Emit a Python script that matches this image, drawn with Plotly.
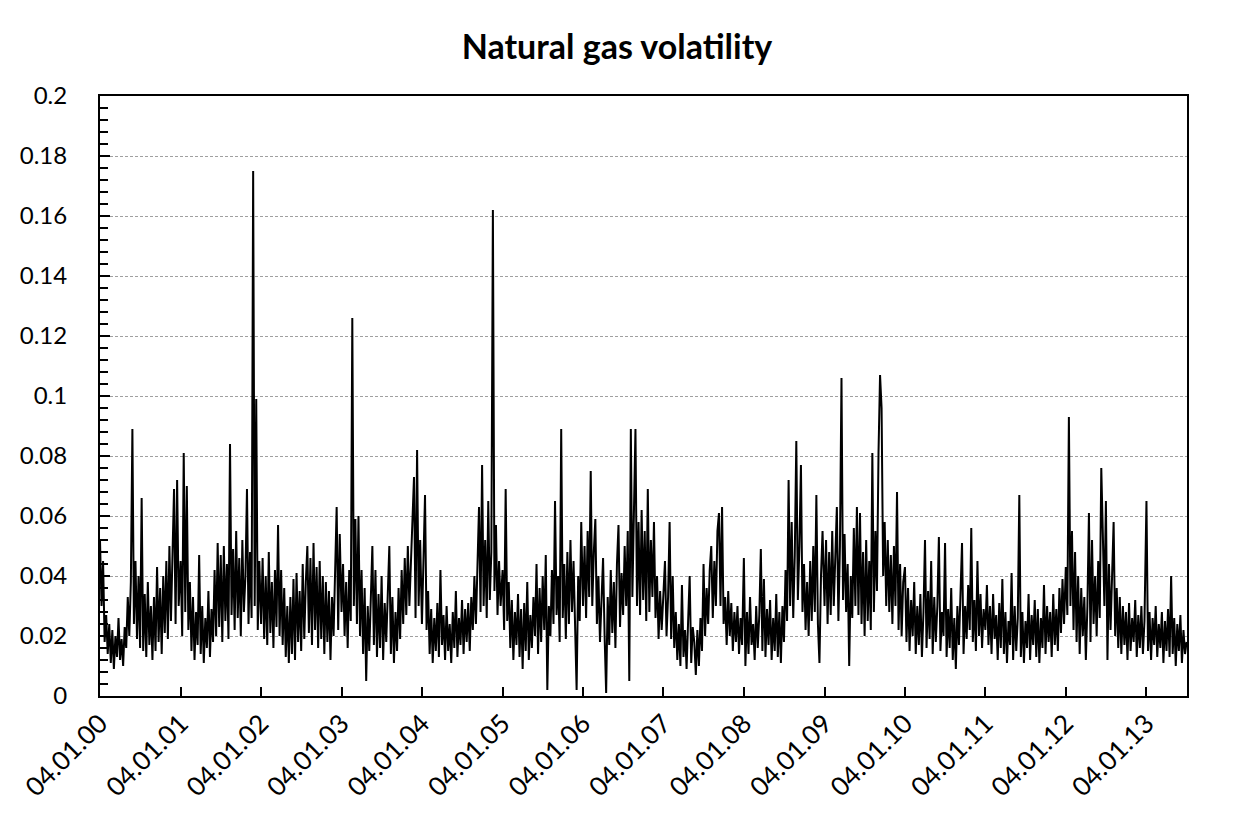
import plotly.graph_objects as go
import pandas as pd

# Weekly volatility readings (in thousandths), one list per year starting 4 Jan
years = list(range(2000, 2014))

vol_2000 = [52, 30, 45, 18, 27, 14, 24, 11, 22, 9, 20, 13, 26, 12, 19, 10, 23, 16, 33, 20,
            38, 89, 24, 45, 19, 40, 16, 66, 15, 34, 13, 38, 17, 30, 12, 33, 15, 43, 18, 36,
            14, 40, 21, 45, 19, 50, 25, 48, 69, 24, 72, 30]
vol_2001 = [45, 20, 81, 28, 70, 22, 38, 15, 33, 12, 28, 17, 47, 14, 30, 11, 26, 16, 35, 13,
            29, 18, 42, 20, 51, 23, 47, 18, 50, 25, 44, 19, 84, 27, 49, 22, 55, 26, 46, 20,
            52, 28, 40, 69, 24, 48, 26, 175, 30, 99, 22, 45]
vol_2002 = [24, 46, 19, 40, 17, 48, 21, 38, 16, 42, 23, 57, 20, 42, 17, 36, 13, 30, 11, 33,
            14, 39, 12, 41, 18, 35, 15, 44, 19, 38, 50, 21, 46, 17, 51, 22, 43, 16, 45, 19,
            40, 14, 38, 18, 35, 12, 33, 20, 40, 63, 22, 54]
vol_2003 = [28, 44, 20, 38, 16, 42, 25, 126, 30, 59, 24, 60, 20, 42, 14, 36, 5, 30, 15, 38,
            50, 17, 42, 13, 34, 16, 40, 12, 31, 18, 37, 50, 14, 33, 11, 28, 15, 36, 19, 42,
            24, 46, 27, 50, 30, 44, 54, 73, 26, 82, 30, 52]
vol_2004 = [24, 48, 67, 22, 35, 14, 29, 11, 26, 15, 31, 13, 42, 17, 27, 12, 30, 15, 24, 11,
            28, 16, 35, 13, 26, 17, 32, 14, 29, 18, 31, 15, 33, 22, 40, 24, 47, 63, 28, 77,
            30, 52, 26, 65, 32, 48, 162, 35, 57, 27, 45, 30]
vol_2005 = [42, 22, 69, 25, 38, 16, 32, 12, 28, 17, 34, 13, 29, 9, 31, 15, 38, 12, 27, 16,
            33, 20, 44, 14, 36, 18, 40, 22, 47, 2, 30, 20, 42, 24, 65, 27, 40, 18, 89, 26,
            44, 19, 48, 24, 52, 28, 45, 22, 2, 40, 25, 58]
vol_2006 = [30, 50, 26, 55, 33, 75, 30, 48, 59, 24, 40, 18, 36, 46, 20, 1, 33, 17, 42, 21,
            38, 16, 44, 57, 23, 41, 27, 50, 30, 55, 5, 89, 33, 60, 89, 30, 58, 27, 62, 32,
            55, 25, 69, 28, 52, 33, 58, 26, 40, 19, 35, 22]
vol_2007 = [37, 45, 20, 33, 58, 19, 40, 16, 28, 12, 24, 10, 37, 13, 22, 9, 25, 40, 11, 23,
            18, 7, 22, 10, 26, 15, 44, 20, 36, 24, 42, 50, 26, 45, 30, 55, 61, 30, 63, 24,
            33, 17, 35, 20, 31, 15, 28, 18, 30, 14, 26, 17]
vol_2008 = [46, 10, 28, 14, 33, 17, 24, 12, 30, 16, 27, 49, 15, 39, 13, 29, 17, 32, 12, 26,
            15, 34, 13, 28, 11, 30, 18, 42, 25, 72, 30, 58, 26, 47, 85, 32, 50, 77, 28, 44,
            22, 38, 20, 45, 25, 50, 28, 67, 24, 11, 40, 55]
vol_2009 = [30, 52, 24, 48, 27, 55, 30, 46, 63, 25, 50, 106, 32, 54, 28, 44, 10, 40, 26, 56,
            30, 63, 27, 61, 24, 48, 20, 52, 25, 45, 22, 81, 28, 55, 35, 81, 107, 96, 40, 58,
            30, 52, 28, 47, 24, 50, 30, 68, 22, 44, 20, 38]
vol_2010 = [43, 18, 36, 15, 32, 20, 38, 14, 30, 17, 34, 13, 28, 52, 16, 35, 19, 45, 14, 33,
            18, 30, 53, 15, 28, 20, 51, 13, 29, 16, 36, 12, 26, 9, 30, 17, 33, 51, 14, 30,
            19, 37, 22, 56, 18, 32, 15, 45, 20, 34, 16, 29]
vol_2011 = [22, 37, 17, 30, 14, 34, 19, 27, 12, 31, 16, 39, 14, 28, 11, 25, 17, 41, 12, 30,
            15, 26, 67, 13, 28, 11, 25, 16, 34, 12, 27, 17, 32, 13, 29, 11, 26, 16, 37, 14,
            30, 18, 28, 13, 34, 17, 29, 15, 36, 21, 39, 24]
vol_2012 = [43, 27, 93, 30, 55, 22, 48, 18, 40, 14, 36, 20, 33, 12, 30, 61, 18, 52, 24, 40,
            20, 45, 26, 76, 54, 30, 65, 12, 44, 22, 40, 58, 20, 36, 16, 33, 14, 30, 17, 28,
            12, 31, 15, 26, 18, 32, 13, 27, 16, 30, 14, 25]
vol_2013 = [65, 15, 28, 12, 26, 17, 30, 13, 24, 16, 28, 11, 25, 15, 29, 13, 40, 14, 26, 10,
            24, 15, 27, 11, 22, 14, 18]

series_by_year = [vol_2000, vol_2001, vol_2002, vol_2003, vol_2004, vol_2005, vol_2006,
                  vol_2007, vol_2008, vol_2009, vol_2010, vol_2011, vol_2012, vol_2013]

x_tick_dates = ["%d-01-04" % y for y in years]
x_tick_labels = ["04.01.%02d" % (y % 100) for y in years]
y_tick_vals = [0, 0.02, 0.04, 0.06, 0.08, 0.1, 0.12, 0.14, 0.16, 0.18, 0.2]
y_tick_labels = ["0", "0.02", "0.04", "0.06", "0.08", "0.1", "0.12", "0.14", "0.16", "0.18", "0.2"]

dates = []
values = []
for yr, vals in zip(years, series_by_year):
    d = pd.date_range("%d-01-04" % yr, periods=len(vals), freq="7D")
    dates.extend(d)
    values.extend(v / 1000.0 for v in vals)

fig = go.Figure()
fig.add_trace(go.Scatter(x=dates, y=values, mode="lines",
                         line=dict(color="black", width=2), showlegend=False,
                         hoverinfo="skip"))

font_family = "Lato"
W, H = 1222, 812   # page body adds an 8px offset
fig.update_layout(
    width=W, height=H,
    paper_bgcolor="white", plot_bgcolor="white",
    margin=dict(l=92, r=43, t=88, b=124, autoexpand=False),
    title=dict(text="<b>Natural gas volatility</b>", x=(617 - 8) / W, xanchor="center",
               y=1 - 39 / H, yanchor="middle", yref="container",
               font=dict(family=font_family, size=34, color="black")),
    font=dict(family=font_family, color="black"),
)
fig.update_xaxes(
    type="date", range=["2000-01-04", "2013-07-07"],
    tickmode="array", tickvals=x_tick_dates, ticktext=x_tick_labels,
    tickangle=-45, tickfont=dict(family=font_family, size=26, color="black"),
    ticks="inside", ticklen=9, tickwidth=2, tickcolor="black",
    showline=True, linecolor="black", linewidth=2, mirror=True,
    showgrid=False, zeroline=False,
)
fig.update_yaxes(
    range=[0, 0.2],
    tickmode="array", tickvals=y_tick_vals, ticktext=y_tick_labels,
    tickfont=dict(family=font_family, size=24, color="black"),
    ticks="inside", ticklen=10, tickwidth=2, tickcolor="black",
    ticklabelstandoff=26,
    minor=dict(tickmode="linear", tick0=0, dtick=0.004, ticks="inside",
               ticklen=8, tickwidth=2, tickcolor="black", showgrid=False),
    showline=True, linecolor="black", linewidth=2, mirror=True,
    showgrid=True, gridcolor="#a0a0a0", gridwidth=1, griddash="3px,2px",
    zeroline=False,
)

fig.write_html("out.html")
